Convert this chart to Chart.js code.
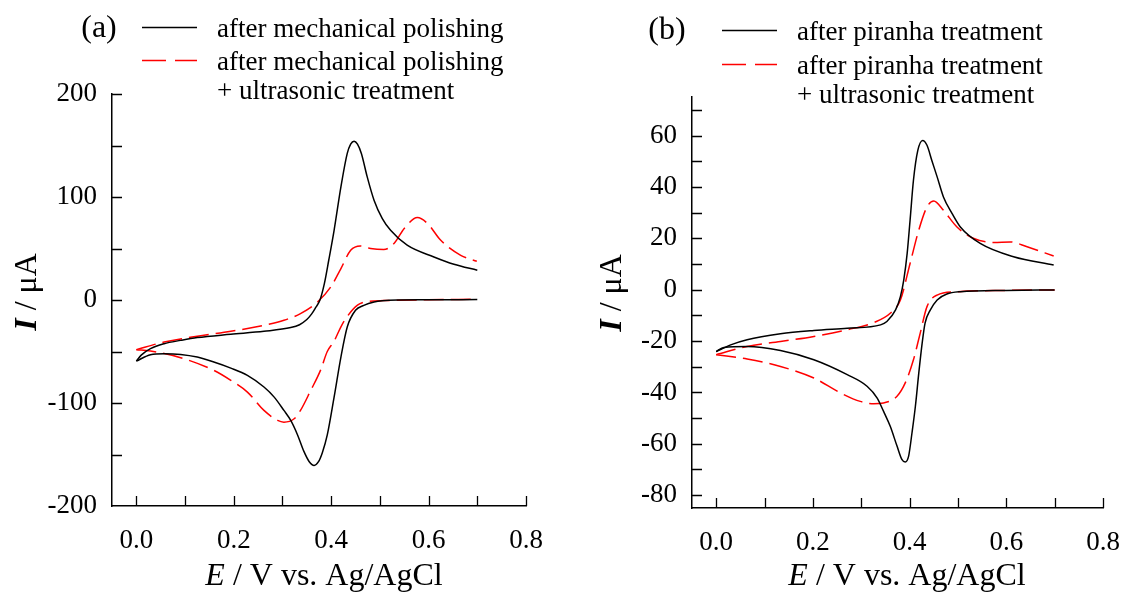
<!DOCTYPE html>
<html>
<head>
<meta charset="utf-8">
<script src="https://cdn.jsdelivr.net/npm/chart.js@4.4.1/dist/chart.umd.min.js"></script>
<style>
html, body { margin: 0; padding: 0; background: #fff; }
#wrap { position: relative; width: 1123px; height: 598px; }
canvas { position: absolute; top: 0; }
#chartA { left: 0; }
#chartB { left: 561px; }
</style>
</head>
<body>
<div id="wrap">
<canvas id="chartA" width="561" height="598"></canvas>
<canvas id="chartB" width="562" height="598"></canvas>
</div>
<script>
// panel (a) - anodic (upper) and cathodic (lower) branches, E ascending
var polishUpE = [0, 0.01, 0.029, 0.057, 0.091, 0.125, 0.194, 0.262, 0.317, 0.335, 0.35, 0.36, 0.368, 0.377, 0.386, 0.395, 0.406, 0.42, 0.433, 0.44, 0.447, 0.454, 0.462, 0.474, 0.488, 0.505, 0.522, 0.556, 0.611, 0.652, 0.7];
var polishUpI = [-59.3, -53.5, -47.2, -42.4, -39.2, -36.5, -33.3, -30.4, -26.8, -24, -19, -13.5, -7.5, 0, 15.9, 38.6, 67.7, 109.8, 142.3, 151.3, 154.2, 151.3, 142.3, 119.5, 96.9, 79.1, 67.7, 53.2, 41.8, 34.7, 28.9];
var polishDownE = [0, 0.029, 0.057, 0.091, 0.125, 0.159, 0.194, 0.228, 0.262, 0.283, 0.303, 0.317, 0.331, 0.344, 0.355, 0.365, 0.374, 0.382, 0.392, 0.406, 0.42, 0.433, 0.45, 0.467, 0.488, 0.505, 0.6, 0.7];
var polishDownI = [-59.3, -53.1, -52.1, -52.8, -55.4, -60.2, -66.1, -73.2, -84.5, -94.3, -107.2, -116.9, -131, -147, -157, -160.6, -157, -148, -131, -94.3, -55.4, -26.2, -10, -5.2, -1.9, -0.8, 0.2, 0.4];

var ultraAUpE = [0, 0.057, 0.125, 0.194, 0.262, 0.303, 0.337, 0.372, 0.399, 0.42, 0.44, 0.46, 0.481, 0.508, 0.529, 0.55, 0.577, 0.598, 0.625, 0.666, 0.699];
var ultraAUpI = [-48.2, -40.8, -35.2, -30.4, -24.5, -19.7, -13.2, -1.9, 12.6, 30.5, 48.3, 52.5, 50, 49, 54.8, 69.4, 80.1, 74.2, 58, 43.4, 37.6];
var ultraADownE = [0, 0.029, 0.091, 0.159, 0.194, 0.228, 0.262, 0.29, 0.303, 0.324, 0.337, 0.358, 0.378, 0.392, 0.406, 0.42, 0.433, 0.454, 0.474, 0.508, 0.6, 0.7];
var ultraADownI = [-48.2, -49.5, -56, -68.3, -78, -89.4, -107.2, -116.9, -118.6, -115.3, -107.2, -87.8, -68.3, -50, -40, -26, -16, -5, -1.5, -0.6, 0.2, 0.7];

// panel (b)
var piranhaUpE = [0, 0.03, 0.064, 0.133, 0.202, 0.271, 0.34, 0.353, 0.371, 0.381, 0.388, 0.395, 0.401, 0.408, 0.417, 0.427, 0.436, 0.446, 0.457, 0.47, 0.488, 0.505, 0.546, 0.615, 0.698];
var piranhaUpI = [-24.1, -21.5, -19.5, -17.2, -15.9, -15, -13.7, -12.4, -7.9, -2.7, 3.8, 14.1, 27, 42.6, 54.2, 58.1, 56.2, 50.3, 43.9, 36.1, 29.6, 24.4, 18, 12.8, 9.6];
var piranhaDownE = [0, 0.016, 0.064, 0.133, 0.202, 0.271, 0.312, 0.333, 0.346, 0.36, 0.374, 0.384, 0.391, 0.398, 0.405, 0.412, 0.419, 0.426, 0.432, 0.443, 0.457, 0.477, 0.505, 0.6, 0.7];
var piranhaDownI = [-24.1, -22.5, -22.1, -23.7, -27.3, -33.1, -37.6, -42.2, -47.3, -53.2, -60.9, -66.1, -67.1, -64.8, -55.7, -45.4, -32.5, -20.8, -13, -7.9, -4, -1.7, -0.8, -0.3, -0.1];

var ultraBUpE = [0, 0.064, 0.133, 0.202, 0.271, 0.326, 0.36, 0.381, 0.401, 0.419, 0.436, 0.45, 0.47, 0.498, 0.533, 0.574, 0.608, 0.643, 0.698];
var ultraBUpI = [-25.3, -22.1, -20.2, -18.2, -15.6, -12.8, -9.2, -4, 10.2, 23.2, 32.2, 34.5, 30.9, 24.4, 19.9, 18.4, 18.6, 16.7, 13.1];
var ultraBDownE = [0, 0.064, 0.133, 0.202, 0.257, 0.298, 0.326, 0.346, 0.374, 0.391, 0.408, 0.422, 0.436, 0.457, 0.498, 0.6, 0.7];
var ultraBDownI = [-25.3, -27, -29.9, -34.4, -40.2, -43.5, -44.4, -44.1, -41.5, -36.3, -27.3, -16.9, -6.6, -2.1, -0.8, -0.3, -0.1];

var labelsA = ["after mechanical polishing", "after mechanical polishing\n+ ultrasonic treatment"];
var labelsB = ["after piranha treatment", "after piranha treatment\n+ ultrasonic treatment"];

var xTicks = [0, 0.1, 0.2, 0.3, 0.4, 0.5, 0.6, 0.7, 0.8];
var yTicksA = [-200, -150, -100, -50, 0, 50, 100, 150, 200];
var yTicksB = [-80, -70, -60, -50, -40, -30, -20, -10, 0, 10, 20, 30, 40, 50, 60, 70];

var serif = '"Liberation Serif", "Times New Roman", serif';

function toPoints(xs, ys) {
    var pts = [];
    for (var i = 0; i < xs.length; i++) pts.push({x: xs[i], y: ys[i]});
    return pts;
}

function drawRich(ctx, parts, x, y) {
    var total = 0;
    parts.forEach(function(p) { ctx.font = p.font; p.w = ctx.measureText(p.text).width; total += p.w; });
    var cx = x - total / 2;
    ctx.textAlign = 'left';
    parts.forEach(function(p) { ctx.font = p.font; ctx.fillText(p.text, cx, y); cx += p.w; });
}

// ticks point inward, like the original plot
var inwardTicks = {
    id: 'inwardTicks',
    afterDraw: function(chart) {
        var ctx = chart.ctx, area = chart.chartArea;
        var xs = chart.scales.x, ys = chart.scales.y;
        ctx.save();
        ctx.strokeStyle = '#000';
        ctx.lineWidth = 1.3;
        ctx.beginPath();
        ys.ticks.forEach(function(t) {
            var p = Math.round(ys.getPixelForValue(t.value)) + 0.5;
            if (Math.abs(p - area.bottom) < 3) return;
            ctx.moveTo(area.left, p);
            ctx.lineTo(area.left + 10, p);
        });
        xs.ticks.forEach(function(t) {
            var p = Math.round(xs.getPixelForValue(t.value)) + 0.5;
            ctx.moveTo(p, area.bottom);
            ctx.lineTo(p, area.bottom - 10);
        });
        ctx.stroke();
        ctx.restore();
    }
};

var decor = {
    id: 'decor',
    afterDraw: function(chart, args, o) {
        var ctx = chart.ctx;
        var sets = chart.data.datasets;
        ctx.save();
        ctx.fillStyle = '#000';
        ctx.textBaseline = 'alphabetic';

        ctx.font = '32px ' + serif;
        ctx.textAlign = 'center';
        ctx.fillText(o.tag, o.tagX, o.tagY);

        // legend: one entry per curve (first branch carries the style)
        o.labels.forEach(function(label, i) {
            var ds = sets[i * 2];
            var row = o.rows[i];
            ctx.save();
            ctx.strokeStyle = ds.borderColor;
            ctx.lineWidth = 1.5;
            ctx.setLineDash(ds.borderDash ? [24, 9] : []);
            ctx.beginPath();
            ctx.moveTo(o.lineX1, row.lineY);
            ctx.lineTo(o.lineX2, row.lineY);
            ctx.stroke();
            ctx.restore();
            ctx.font = '27px ' + serif;
            ctx.textAlign = 'left';
            label.split('\n').forEach(function(line, k) {
                ctx.fillText(line, o.textX, row.base + k * 29);
            });
        });

        // axis titles
        drawRich(ctx, [
            {text: 'E', font: 'italic 32px ' + serif},
            {text: ' / V vs. Ag/AgCl', font: '32px ' + serif}
        ], o.xTitleX, o.xTitleY);

        ctx.save();
        ctx.translate(o.yTitleX, o.yTitleY);
        ctx.rotate(-Math.PI / 2);
        drawRich(ctx, [
            {text: 'I', font: 'bold italic 32px ' + serif},
            {text: ' / \u03bcA', font: '32px ' + serif}
        ], 0, 0);
        ctx.restore();
        ctx.restore();
    }
};

function branch(label, e, i, color, dash) {
    return {
        label: label,
        data: toPoints(e, i),
        showLine: true,
        borderColor: color,
        borderWidth: 1.5,
        borderDash: dash,
        pointRadius: 0,
        cubicInterpolationMode: 'monotone',
        fill: false
    };
}

function makeChart(id, datasets, decorOpts, yTicks, yMin, yMax, yMajor, pad, yWidth, xHeight) {
    var ctx = document.getElementById(id);
    return new Chart(ctx, {
        type: 'scatter',
        data: { datasets: datasets },
        options: {
            responsive: false,
            animation: false,
            layout: { padding: pad },
            plugins: {
                legend: { display: false },
                tooltip: { enabled: false },
                decor: decorOpts
            },
            scales: {
                x: {
                    type: 'linear',
                    min: -0.05,
                    max: 0.8,
                    grid: { display: false, drawTicks: false },
                    border: { display: true, color: '#000', width: 1.5 },
                    afterBuildTicks: function(s) { s.ticks = xTicks.map(function(v) { return {value: v}; }); },
                    afterFit: function(s) { s.height = xHeight; s.paddingLeft = 0; s.paddingRight = 0; },
                    ticks: {
                        autoSkip: false,
                        maxRotation: 0,
                        color: '#000',
                        padding: 19,
                        font: { family: serif, size: 27 },
                        callback: function(v) { return Math.round(v * 10) % 2 === 0 ? v.toFixed(1) : ''; }
                    }
                },
                y: {
                    type: 'linear',
                    min: yMin,
                    max: yMax,
                    grid: { display: false, drawTicks: false },
                    border: { display: true, color: '#000', width: 1.5 },
                    afterBuildTicks: function(s) { s.ticks = yTicks.map(function(v) { return {value: v}; }); },
                    afterFit: function(s) { s.width = yWidth; s.paddingTop = 0; s.paddingBottom = 0; },
                    ticks: {
                        autoSkip: false,
                        color: '#000',
                        padding: 15,
                        font: { family: serif, size: 27 },
                        callback: function(v) { return v % yMajor === 0 ? String(v) : ''; }
                    }
                }
            }
        },
        plugins: [inwardTicks, decor]
    });
}

makeChart('chartA', [
        branch(labelsA[0], polishUpE, polishUpI, '#000000', undefined),
        branch(labelsA[0], polishDownE, polishDownI, '#000000', undefined),
        branch(labelsA[1], ultraAUpE, ultraAUpI, '#ff0000', [20, 7]),
        branch(labelsA[1], ultraADownE, ultraADownI, '#ff0000', [20, 7])
    ],
    { tag: '(a)', tagX: 99, tagY: 37, lineX1: 142, lineX2: 197, textX: 217, labels: labelsA,
      rows: [{lineY: 27.5, base: 36.5}, {lineY: 60.5, base: 70}],
      xTitleX: 324, xTitleY: 585, yTitleX: 36, yTitleY: 292 },
    yTicksA, -200, 200, 100, { left: 0, top: 94, right: 35, bottom: 0 }, 112, 92);

makeChart('chartB', [
        branch(labelsB[0], piranhaUpE, piranhaUpI, '#000000', undefined),
        branch(labelsB[0], piranhaDownE, piranhaDownI, '#000000', undefined),
        branch(labelsB[1], ultraBUpE, ultraBUpI, '#ff0000', [20, 7]),
        branch(labelsB[1], ultraBDownE, ultraBDownI, '#ff0000', [20, 7])
    ],
    { tag: '(b)', tagX: 106, tagY: 39, lineX1: 161, lineX2: 216, textX: 236, labels: labelsB,
      rows: [{lineY: 30.5, base: 39.5}, {lineY: 64.5, base: 73.5}],
      xTitleX: 346, xTitleY: 585, yTitleX: 60, yTitleY: 293 },
    yTicksB, -85, 75, 20, { left: 0, top: 97, right: 20, bottom: 0 }, 131, 90);
</script>
</body>
</html>
